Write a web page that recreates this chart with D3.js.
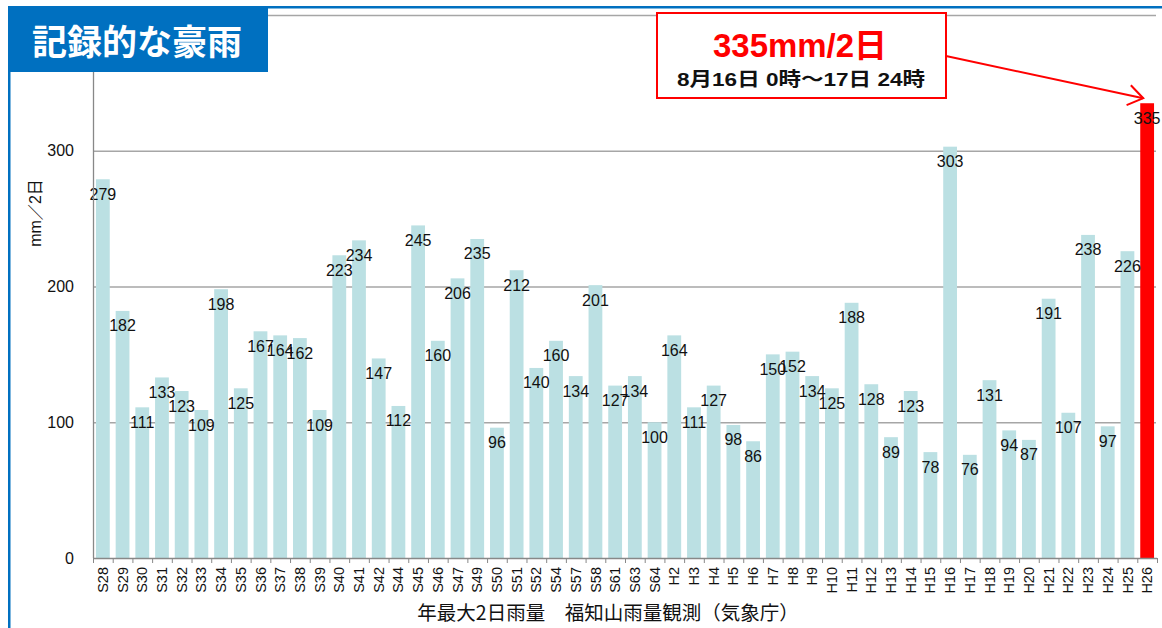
<!DOCTYPE html>
<html>
<head>
<meta charset="utf-8">
<script src="https://cdn.jsdelivr.net/npm/d3@7"></script>
<style>
  body { margin: 0; background: #fff; }
  svg { display: block; font-family: "Liberation Sans", Arial, "Noto Sans CJK JP", sans-serif; }
</style>
</head>
<body>
<div id="app"></div>
<script>
// years (Showa / Heisei) and annual max 2-day rainfall, Fukuchiyama
let years = ['S28','S29','S30','S31','S32','S33','S34','S35','S36','S37','S38','S39','S40','S41','S42',
    'S44','S45','S46','S47','S49','S50','S51','S52','S54','S57','S58','S61','S63','S64',
    'H2','H3','H4','H5','H6','H7','H8','H9','H10','H11','H12','H13','H14','H15','H16','H17',
    'H18','H19','H20','H21','H22','H23','H24','H25','H26'];
let rain = [279,182,111,133,123,109,198,125,167,164,162,109,223,234,147,
    112,245,160,206,235,96,212,140,160,134,201,127,134,100,
    164,111,127,98,86,150,152,134,125,188,128,89,123,78,303,76,
    131,94,87,191,107,238,97,226,335];
let yTicks = [0, 100, 200, 300];
let gridTicks = [100, 200, 300, 400];

let svgWidth = 1162, svgHeight = 628;
let plot = {left: 93, right: 1157, top: 15, bottom: 558};

let svg = d3.select('#app').append('svg')
    .attr('width', svgWidth)
    .attr('height', svgHeight);

let x = d3.scaleBand()
    .domain(years)
    .range([plot.left, plot.right])
    .paddingInner(0.3)
    .paddingOuter(0.15);

let y = d3.scaleLinear()
    .domain([0, 400])
    .range([plot.bottom, plot.top]);

    //gridlines
svg.append('g')
    .selectAll('line')
    .data(gridTicks)
    .enter().append('line')
        .attr('x1', plot.left)
        .attr('x2', plot.right - 1)
        .attr('y1', d => y(d) + 0.5)
        .attr('y2', d => y(d) + 0.5)
        .attr('stroke', '#a6a6a6')
        .attr('stroke-width', 1.3);

    //bars
svg.append('g')
    .selectAll('rect')
    .data(rain)
    .enter().append('rect')
        .attr('x', (d, i) => x(years[i]))
        .attr('y', d => y(d))
        .attr('width', x.bandwidth())
        .attr('height', d => plot.bottom - y(d))
        .attr('fill', (d, i) => i === rain.length - 1 ? '#ff0000' : '#bbe0e3');

    //value labels
svg.append('g')
    .selectAll('text')
    .data(rain)
    .enter().append('text')
        .attr('x', (d, i) => x(years[i]) + x.bandwidth() / 2)
        .attr('y', d => y(d) + 20.5)
        .attr('text-anchor', 'middle')
        .attr('font-size', '16px')
        .attr('fill', '#111')
        .text(d => d);

    //axes lines
svg.append('line')
    .attr('x1', plot.left + 0.5).attr('x2', plot.left + 0.5)
    .attr('y1', plot.top).attr('y2', plot.bottom)
    .attr('stroke', '#888').attr('stroke-width', 1.3);
svg.append('line')
    .attr('x1', plot.left).attr('x2', plot.right)
    .attr('y1', plot.bottom + 0.5).attr('y2', plot.bottom + 0.5)
    .attr('stroke', '#888').attr('stroke-width', 1.3);

    //ticks between categories
svg.append('g')
    .selectAll('line')
    .data(d3.range(years.length + 1))
    .enter().append('line')
        .attr('x1', i => plot.left + i * x.step() + 0.5)
        .attr('x2', i => plot.left + i * x.step() + 0.5)
        .attr('y1', plot.bottom)
        .attr('y2', plot.bottom + 5)
        .attr('stroke', '#888');

    //x labels (rotated)
svg.append('g')
    .attr('transform', `translate(0,${plot.bottom})`)
    .call(d3.axisBottom(x).tickSize(0).tickPadding(0))
    .call(g => g.select('.domain').remove())
    .selectAll('text')
        .attr('font-family', '"Liberation Sans", Arial, sans-serif')
        .attr('font-size', '14.5px')
        .attr('fill', '#111')
        .attr('text-anchor', 'end')
        .attr('transform', 'rotate(-90)')
        .attr('x', -9)
        .attr('y', 0)
        .attr('dy', '0.35em');

    //y labels
svg.append('g')
    .selectAll('text')
    .data(yTicks)
    .enter().append('text')
        .attr('x', plot.left - 19)
        .attr('y', d => y(d))
        .attr('dy', '0.35em')
        .attr('text-anchor', 'end')
        .attr('font-size', '16px')
        .attr('fill', '#111')
        .text(d => d);

svg.append('text')
    .attr('transform', 'translate(41,213) rotate(-90)')
    .attr('text-anchor', 'middle')
    .attr('font-size', '16px')
    .attr('fill', '#111')
    .text('mm／2日');

svg.append('text')
    .attr('x', 608)
    .attr('y', 620)
    .attr('text-anchor', 'middle')
    .attr('font-family', '"Noto Sans CJK JP", sans-serif')
    .attr('font-size', '19.5px')
    .attr('fill', '#111')
    .text('年最大2日雨量　福知山雨量観測（気象庁）');

    //frame: blue top rule, left rule, title box
svg.append('rect')
    .attr('x', 8).attr('y', 6).attr('width', svgWidth - 8).attr('height', 2.5)
    .attr('fill', '#0070c0');
svg.append('rect')
    .attr('x', 8).attr('y', 6).attr('width', 2.5).attr('height', svgHeight)
    .attr('fill', '#0070c0');
svg.append('rect')
    .attr('x', 8).attr('y', 6).attr('width', 260).attr('height', 66)
    .attr('fill', '#0070c0');
svg.append('text')
    .attr('x', 137)
    .attr('y', 55)
    .attr('text-anchor', 'middle')
    .attr('font-family', '"Noto Sans CJK JP", sans-serif')
    .attr('font-weight', 'bold')
    .attr('font-size', '35px')
    .attr('fill', '#fff')
    .text('記録的な豪雨');

    //callout for H26
let last = years[years.length - 1];
let tipX = x(last) + 3, tipY = y(rain[rain.length - 1]) - 5;
let startX = 946, startY = 56;
let ang = Math.atan2(tipY - startY, tipX - startX);
let head = 18, spread = 0.6;

svg.append('line')
    .attr('x1', startX).attr('y1', startY)
    .attr('x2', tipX).attr('y2', tipY)
    .attr('stroke', '#ff0000').attr('stroke-width', 2);
svg.append('path')
    .attr('d', `M${tipX - head * Math.cos(ang - spread)},${tipY - head * Math.sin(ang - spread)}` +
        `L${tipX},${tipY}` +
        `L${tipX - head * Math.cos(ang + spread)},${tipY - head * Math.sin(ang + spread)}`)
    .attr('fill', 'none')
    .attr('stroke', '#ff0000').attr('stroke-width', 2);

svg.append('rect')
    .attr('x', 657).attr('y', 13).attr('width', 289).attr('height', 85)
    .attr('fill', '#fff')
    .attr('stroke', '#ff0000').attr('stroke-width', 2);
svg.append('text')
    .attr('x', 800)
    .attr('y', 57)
    .attr('text-anchor', 'middle')
    .attr('font-family', '"Liberation Sans", Arial, "Noto Sans CJK JP", sans-serif')
    .attr('font-weight', 'bold')
    .attr('font-size', '33px')
    .attr('fill', '#ff0000')
    .attr('textLength', 174)
    .attr('lengthAdjust', 'spacingAndGlyphs')
    .text('335mm/2日');
svg.append('text')
    .attr('x', 801)
    .attr('y', 86)
    .attr('text-anchor', 'middle')
    .attr('font-family', '"Liberation Sans", Arial, "Noto Sans CJK JP", sans-serif')
    .attr('font-weight', 'bold')
    .attr('font-size', '19px')
    .attr('fill', '#111')
    .attr('textLength', 248)
    .attr('lengthAdjust', 'spacingAndGlyphs')
    .text('8月16日 0時～17日 24時');
</script>
</body>
</html>
